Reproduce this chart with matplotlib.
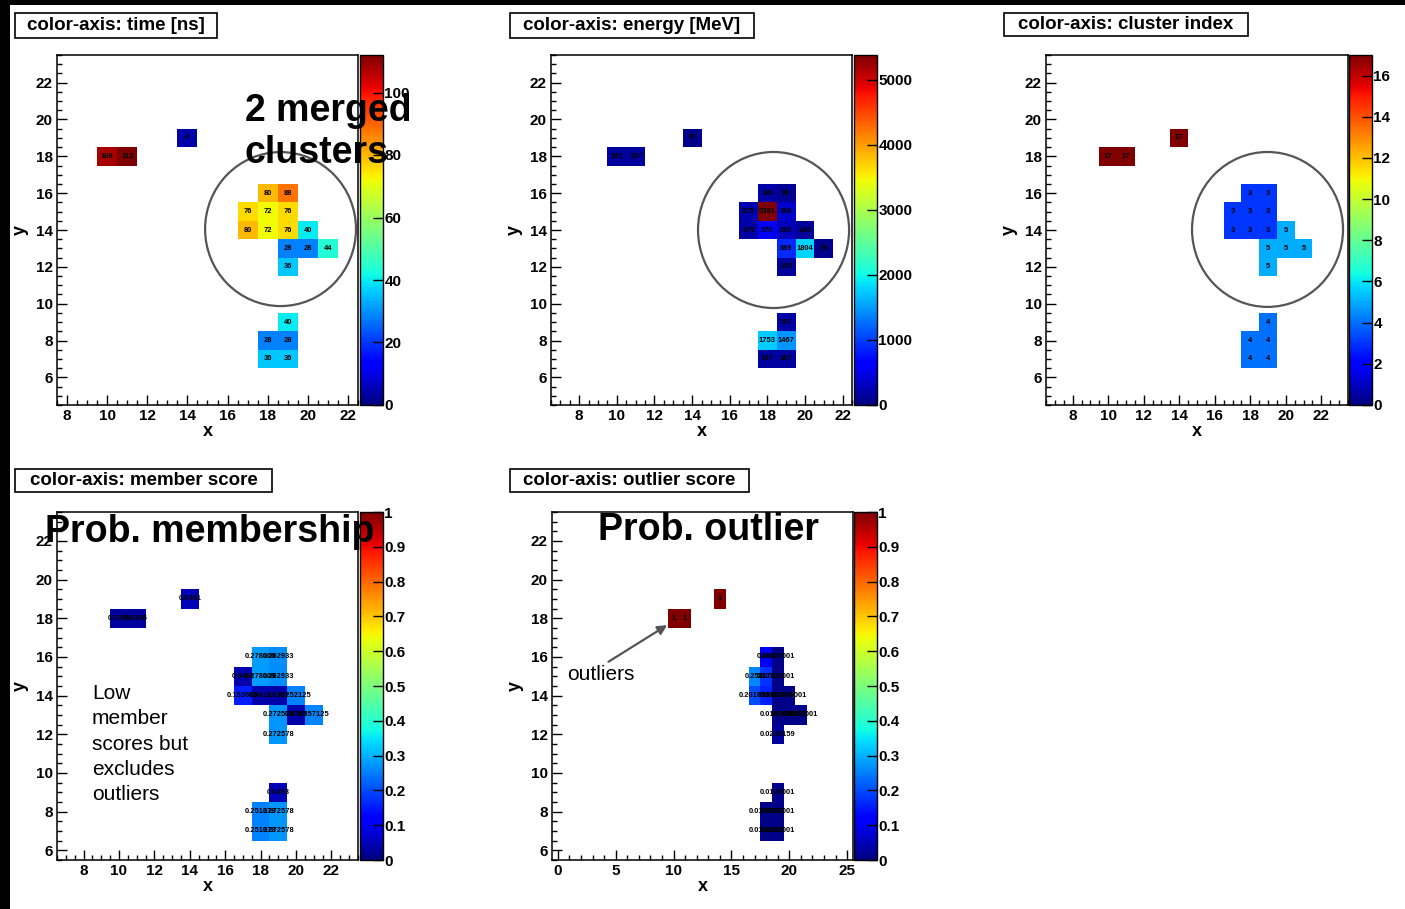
import numpy as np
import matplotlib
matplotlib.use("Agg")
import matplotlib.pyplot as plt
from matplotlib.patches import Rectangle, Ellipse
from matplotlib.ticker import MultipleLocator, NullLocator

plt.rcParams["font.family"] = ["Liberation Sans", "DejaVu Sans"]
plt.rcParams["font.weight"] = "bold"

W, H = 1405, 909

# hit cells (bin centres), shared by all five maps
cell_x = [10, 11, 14, 18, 19, 17, 18, 19, 17, 18, 19, 20, 19, 20, 21, 19, 19, 18, 19, 18, 19]
cell_y = [18, 18, 19, 16, 16, 15, 15, 15, 14, 14, 14, 14, 13, 13, 13, 12, 9, 8, 8, 7, 7]

time_ns = [108, 112, 4, 80, 88, 76, 72, 76, 80, 72, 76, 40, 28, 28, 44, 36, 40, 28, 28, 36, 36]
energy_mev = [161, 157, 70, 180, 86, 225, 5381, 368, 179, 570, 293, 140, 889, 1804, 76, 145,
              191, 1753, 1467, 157, 167]
cluster_index = [17, 17, 17, 3, 3, 3, 3, 3, 3, 3, 3, 5, 5, 5, 5, 5, 4, 4, 4, 4, 4]
member_score = [0.0306, 0.0306, 0.0481, 0.278006, 0.262933, 0.0402, 0.278006, 0.262933,
                0.153685, 0.0412, 0.0367, 0.252125, 0.272578, 0.0385, 0.257125, 0.272578,
                0.0493, 0.251378, 0.272578, 0.251378, 0.272578]
outlier_score = [1, 1, 1, 0.104, 0.0100001, 0.258, 0.172, 0.0100001, 0.201798, 0.158,
                 0.0100001, 0.0100001, 0.0100001, 0.0100001, 0.0100001, 0.0236159,
                 0.0100001, 0.0100001, 0.0100001, 0.0100001, 0.0100001]

titles = ["color-axis: time [ns]", "color-axis: energy [MeV]", "color-axis: cluster index",
          "color-axis: member score", "color-axis: outlier score"]


def fig_rect(x0, y0, x1, y1):
    return [x0 / W, 1 - y1 / H, (x1 - x0) / W, (y1 - y0) / H]


def fig_xy(x, y):
    return x / W, 1 - y / H


def draw_panel(fig, frame, cbar, box, title, values, xlim, ylim, vmax, xstep, cticks, clabels=None):
    ax = fig.add_axes(fig_rect(*frame))
    xe = np.arange(6.5, 24.0, 1.0)
    ye = np.arange(4.5, 24.0, 1.0)
    grid = np.full((len(ye) - 1, len(xe) - 1), np.nan)
    for x, y, v in zip(cell_x, cell_y, values):
        grid[y - 5, x - 7] = v
    mesh = ax.pcolormesh(xe, ye, np.ma.masked_invalid(grid), cmap="jet", vmin=0, vmax=vmax,
                         edgecolors="face", linewidth=0)
    for x, y, v in zip(cell_x, cell_y, values):
        ax.text(x, y, f"{v:g}", ha="center", va="center", fontsize=5.4,
                fontweight="bold", color="black")

    ax.set_xlim(*xlim)
    ax.set_ylim(*ylim)
    ax.xaxis.set_major_locator(MultipleLocator(xstep[0]))
    ax.xaxis.set_minor_locator(MultipleLocator(xstep[1]))
    ax.yaxis.set_major_locator(MultipleLocator(2))
    ax.yaxis.set_minor_locator(MultipleLocator(0.5))
    ax.tick_params(which="both", direction="in", top=False, right=False,
                   labelsize=11, width=1, pad=3)
    ax.tick_params(which="major", length=7)
    ax.tick_params(which="minor", length=3.5)
    for s in ax.spines.values():
        s.set_linewidth(1.1)
    ax.set_xlabel("x", fontsize=13, fontweight="bold", labelpad=0)
    ax.set_ylabel("y", fontsize=13, fontweight="bold", labelpad=5)

    cax = fig.add_axes(fig_rect(*cbar))
    cb = fig.colorbar(mesh, cax=cax)
    cb.set_ticks(cticks)
    if clabels is not None:
        cb.set_ticklabels(clabels)
    cb.outline.set_linewidth(1)
    cax.yaxis.set_minor_locator(NullLocator())
    cax.tick_params(direction="in", length=7, width=1, labelsize=11, pad=1)

    bx0, by0, bx1, by1 = box
    fig.patches.append(Rectangle(fig_xy(bx0, by1), (bx1 - bx0) / W, (by1 - by0) / H,
                                 transform=fig.transFigure, facecolor="white",
                                 edgecolor="black", linewidth=1.2, zorder=2))
    cx, cy = fig_xy((bx0 + bx1) / 2, (by0 + by1) / 2)
    fig.text(cx, cy, title, ha="center", va="center", fontsize=13.5, fontweight="bold", zorder=3)
    return ax


fig = plt.figure(figsize=(W / 100, H / 100), dpi=100)
fig.patch.set_facecolor("black")
fig.patches.append(Rectangle((10 / W, 0), 1, 1 - 5 / H, transform=fig.transFigure,
                             facecolor="white", edgecolor="none", zorder=-5))

ax1 = draw_panel(fig, (57, 55, 358, 405), (360, 55, 383, 405), (15, 13, 217, 38), titles[0],
                 time_ns, (7.5, 22.5), (4.5, 23.5), max(time_ns), (2, 0.5),
                 [0, 20, 40, 60, 80, 100])
ax2 = draw_panel(fig, (551, 55, 852, 405), (854, 55, 877, 405), (510, 13, 754, 38), titles[1],
                 energy_mev, (6.5, 22.5), (4.5, 23.5), max(energy_mev), (2, 0.5),
                 [0, 1000, 2000, 3000, 4000, 5000])
ax3 = draw_panel(fig, (1046, 55, 1348, 405), (1349, 55, 1372, 405), (1004, 13, 1248, 36),
                 titles[2], cluster_index, (6.5, 23.5), (4.5, 23.5), max(cluster_index),
                 (2, 0.5), [0, 2, 4, 6, 8, 10, 12, 14, 16])
score_ticks = [i / 10 for i in range(11)]
score_labels = ["0", "0.1", "0.2", "0.3", "0.4", "0.5", "0.6", "0.7", "0.8", "0.9", "1"]
ax4 = draw_panel(fig, (57, 512, 358, 860), (360, 512, 383, 860), (15, 469, 272, 492), titles[3],
                 member_score, (6.5, 23.5), (5.5, 23.5), 1.0, (2, 0.5),
                 score_ticks, score_labels)
ax5 = draw_panel(fig, (552, 512, 853, 860), (854, 512, 877, 860), (510, 469, 749, 492), titles[4],
                 outlier_score, (-0.5, 25.5), (5.5, 23.5), 1.0, (5, 1),
                 score_ticks, score_labels)

# circles around the merged clusters
for ax, (cx, cy, w, h) in zip([ax1, ax2, ax3], [(18.64, 14.05, 7.52, 8.36),
                                               (18.33, 14.0, 8.03, 8.47),
                                               (18.97, 14.03, 8.5, 8.41)]):
    ax.add_patch(Ellipse((cx, cy), w, h, fill=False, edgecolor="#555555", linewidth=1.6))

fig.text(*fig_xy(245, 93), "2 merged\nclusters", ha="left", va="top", fontsize=27,
         fontweight="bold", zorder=5)
fig.text(*fig_xy(45, 514), "Prob. membership", ha="left", va="top", fontsize=27,
         fontweight="bold", zorder=5)
fig.text(*fig_xy(598, 512), "Prob. outlier", ha="left", va="top", fontsize=27,
         fontweight="bold", zorder=5)
fig.text(*fig_xy(92, 684), "Low\nmember\nscores but\nexcludes\noutliers", ha="left", va="top",
         fontsize=15, fontweight="normal", linespacing=1.42, zorder=5)
ax5.annotate("outliers", xy=(9.45, 17.65), xycoords="data",
             xytext=fig_xy(567, 674), textcoords="figure fraction",
             ha="left", va="center", fontsize=15, fontweight="normal",
             arrowprops=dict(arrowstyle="-|>", color="#555555", lw=1.6, mutation_scale=14,
                             shrinkA=0, shrinkB=0, relpos=(0.55, 1.0)))

fig.savefig("out.png", dpi=100)
